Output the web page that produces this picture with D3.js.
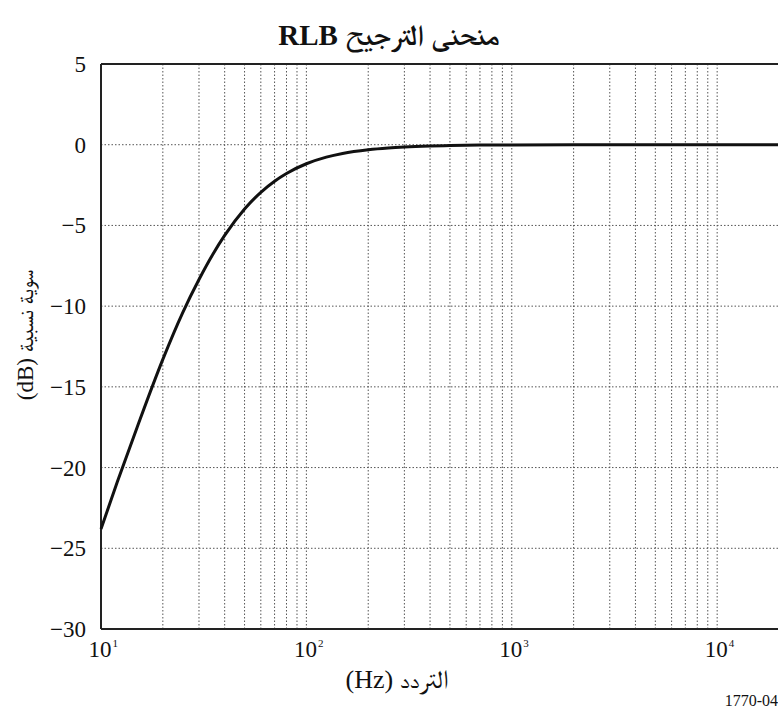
<!DOCTYPE html>
<html><head><meta charset="utf-8">
<script src="https://cdn.jsdelivr.net/npm/d3@7"></script>
<style>body{margin:0;background:#fff}svg{display:block}</style>
</head><body>
<svg id="c" width="778" height="715"></svg>
<script>
const freqs = [10, 12, 15, 20, 25, 30, 35, 40, 50, 60, 70, 80, 100, 125, 150, 200, 250, 300, 400, 500, 700, 1000, 2000, 5000, 10000, 20000];
const levels = [-23.8, -20.9, -17.5, -13.3, -10.4, -8.35, -6.8, -5.62, -3.98, -2.95, -2.26, -1.78, -1.18, -0.77, -0.54, -0.31, -0.2, -0.14, -0.08, -0.05, -0.02, -0.01, 0, 0, 0, 0];
const yTicks = [5, 0, -5, -10, -15, -20, -25, -30];
const xDecades = [10, 100, 1000, 10000];
const xDecadeExp = ["1", "2", "3", "4"];
const gridFreqs = [20,30,40,50,60,70,80,90,100,200,300,400,500,600,700,800,900,1000,2000,3000,4000,5000,6000,7000,8000,9000,10000];
const yGrid = [0, -5, -10, -15, -20, -25];
const title = "منحنى الترجيح RLB";
const xTitle = "التردد (Hz)";
const yTitle = "سوية نسبية (dB)";
const figId = "1770-04";

const FONT = '"Liberation Serif", "FreeSerif", serif';
const svg = d3.select("#c");
const x = d3.scaleLog().domain([10, 20000]).range([101, 779]);
const y = d3.scaleLinear().domain([-30, 5]).range([629, 64]);

// grid
svg.append("g").selectAll("line").data(gridFreqs).join("line")
  .attr("x1", d => x(d)).attr("x2", d => x(d)).attr("y1", 64).attr("y2", 629)
  .attr("stroke", "#555").attr("stroke-width", 1).attr("stroke-dasharray", "1.5,2");
svg.append("g").selectAll("line").data(yGrid).join("line")
  .attr("x1", 101).attr("x2", 779).attr("y1", d => y(d)).attr("y2", d => y(d))
  .attr("stroke", "#555").attr("stroke-width", 1).attr("stroke-dasharray", "1.5,2");

// axes frame
svg.append("line").attr("x1", x(10)).attr("x2", 779).attr("y1", y(5)).attr("y2", y(5)).attr("stroke", "#222").attr("stroke-width", 2);
svg.append("line").attr("x1", x(10)).attr("x2", 779).attr("y1", y(-30)).attr("y2", y(-30)).attr("stroke", "#222").attr("stroke-width", 2);
svg.append("line").attr("x1", x(10)).attr("x2", x(10)).attr("y1", y(5)).attr("y2", y(-30)).attr("stroke", "#222").attr("stroke-width", 2);

// y tick labels
svg.append("g").selectAll("text").data(yTicks).join("text")
  .attr("x", 86).attr("y", d => y(d) + 8)
  .attr("text-anchor", "end").attr("fill", "#111")
  .style("font-family", FONT).style("font-size", "23px")
  .text(d => d < 0 ? "\u2212" + Math.abs(d) : String(d));

// x tick labels
const xl = svg.append("g").selectAll("text").data(xDecades).join("text")
  .attr("x", d => x(d) - 12.5).attr("y", 657)
  .attr("text-anchor", "start").attr("fill", "#111")
  .style("font-family", FONT).style("font-size", "23px");
xl.append("tspan").text("10");
xl.append("tspan").attr("dx", 1).attr("dy", -10).style("font-size", "11px").text((d, i) => xDecadeExp[i]);

// curve
const line = d3.line().x((d, i) => x(freqs[i])).y(d => y(d)).curve(d3.curveMonotoneX);
svg.append("path").datum(levels).attr("d", line)
  .attr("fill", "none").attr("stroke", "#111").attr("stroke-width", 3).attr("stroke-linejoin", "round");

// titles
svg.append("text").attr("x", 389).attr("y", 45).attr("text-anchor", "middle")
  .attr("fill", "#111").attr("direction", "rtl")
  .style("font-family", FONT).style("font-size", "29px").style("font-weight", "bold")
  .text(title);
svg.append("text").attr("x", 397).attr("y", 688).attr("text-anchor", "middle")
  .attr("fill", "#111").attr("direction", "rtl")
  .style("font-family", FONT).style("font-size", "26px")
  .text(xTitle);
svg.append("text").attr("transform", "translate(33,335) rotate(-90)").attr("text-anchor", "middle")
  .attr("fill", "#111").attr("direction", "rtl")
  .style("font-family", FONT).style("font-size", "23px")
  .text(yTitle);
svg.append("text").attr("x", 778).attr("y", 706).attr("text-anchor", "end")
  .attr("fill", "#111")
  .style("font-family", FONT).style("font-size", "16px")
  .text(figId);
</script>
</body></html>
